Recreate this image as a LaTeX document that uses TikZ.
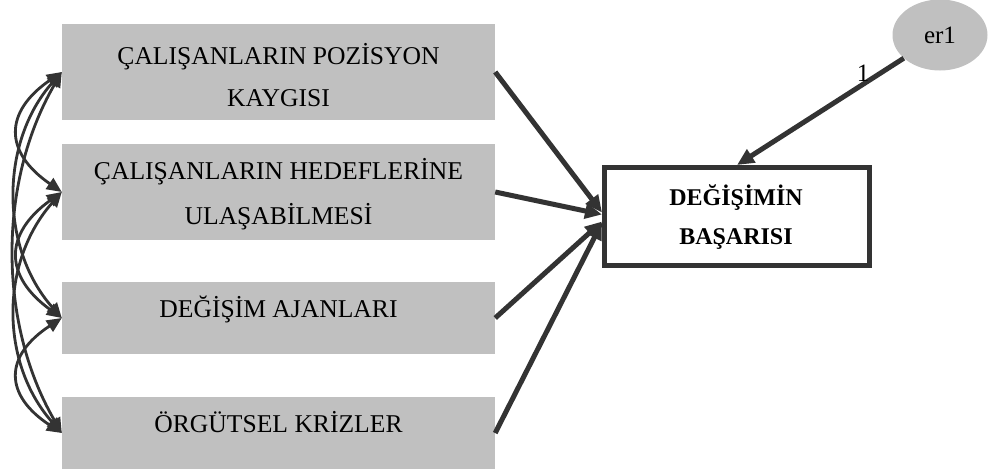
\documentclass[tikz,border=0pt]{standalone}
\usepackage{fontspec}
\setmainfont{Liberation Serif}
\usetikzlibrary{arrows.meta,shapes.geometric,calc}
\definecolor{boxgray}{HTML}{C0C0C0}
\definecolor{ink}{HTML}{333333}

\begin{document}
\begin{tikzpicture}[x=1pt,y=-1pt,
  factor/.style={fill=boxgray, draw=none, minimum width=433pt, inner sep=0pt},
  lbl/.style={font=\fontsize{25.6}{30}\selectfont, inner sep=0pt, anchor=base},
  outcome/.style={draw=ink, line width=5pt, fill=white, minimum width=265pt, minimum height=98pt, inner sep=0pt},
  blbl/.style={font=\fontsize{24}{28}\selectfont\bfseries, inner sep=0pt, anchor=base},
  errterm/.style={ellipse, fill=boxgray, draw=none, minimum width=95pt, minimum height=71pt, inner sep=0pt,
    font=\fontsize{25}{30}\selectfont},
  regress/.style={draw=ink, line width=5pt, -{Triangle[length=17pt,width=15pt]}},
  covar/.style={draw=ink, line width=2.8pt,
    {Triangle[length=15pt,width=13pt]}-{Triangle[length=15pt,width=13pt]}},
]
\useasboundingbox (0,0) rectangle (1001,474);

% exogenous variables
\node[factor, minimum height=96pt] (b1) at (278.5,72) {};
\node[factor, minimum height=96pt] (b2) at (278.5,192) {};
\node[factor, minimum height=72pt] (b3) at (278.5,318) {};
\node[factor, minimum height=72pt] (b4) at (278.5,433) {};

\node[lbl] (b1a) at (278.5,64) {ÇALIŞANLARIN POZİSYON};
\node[lbl] (b1b) at (278.5,106) {KAYGISI};
\node[lbl] (b2a) at (278.5,179) {ÇALIŞANLARIN HEDEFLERİNE};
\node[lbl] (b2b) at (278.5,224) {ULAŞABİLMESİ};
\node[lbl] (b3a) at (278.5,317) {DEĞİŞİM AJANLARI};
\node[lbl] (b4a) at (278.5,432) {ÖRGÜTSEL KRİZLER};

% outcome variable and its error term
\node[outcome] (dv) at (737,216.5) {};
\node[blbl] (dva) at (736,205) {DEĞİŞİMİN};
\node[blbl] (dvb) at (736,244) {BAŞARISI};

\node[errterm] (er) at (940,35) {er1};

% regression paths
\draw[regress] (b1.east) -- ([yshift=4pt]dv.west);
\draw[regress] (b2.east) -- ([yshift=2pt]dv.west);
\draw[regress] (b3.east) -- ([yshift=-5pt]dv.west);
\draw[regress] (b4.east) -- ([yshift=-6pt]dv.west);
\draw[regress] (er) -- (dv.north);
\node[font=\fontsize{25}{30}\selectfont, inner sep=0pt] (w1) at (863,73) {1};

% covariances between exogenous variables
\draw[covar] (b1.west) .. controls +(-58,40) and +(-58,-40) .. (b2.west);
\draw[covar] (b2.west) .. controls +(-58,42) and +(-58,-42) .. (b3.west);
\draw[covar] (b3.west) .. controls +(-58,38) and +(-58,-38) .. (b4.west);
\draw[covar] (b1.west) .. controls +(-62,70) and +(-62,-70) .. (b3.west);
\draw[covar] (b2.west) .. controls +(-62,70) and +(-62,-70) .. (b4.west);
\draw[covar] (b1.west) .. controls +(-64,110) and +(-64,-110) .. (b4.west);
\end{tikzpicture}
\end{document}
